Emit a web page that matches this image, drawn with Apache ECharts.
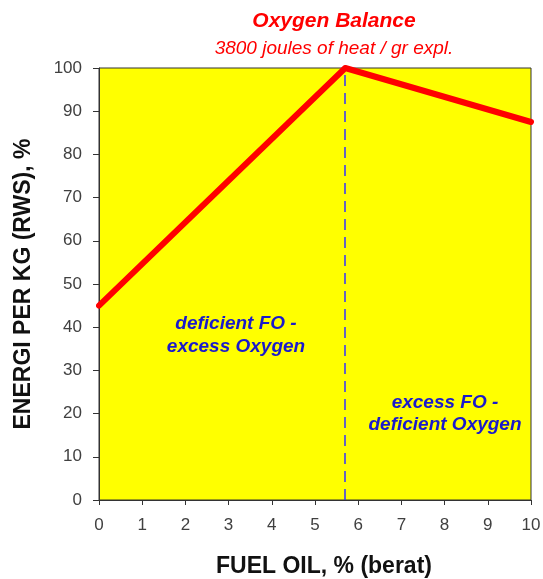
<!DOCTYPE html>
<html><head><meta charset="utf-8">
<script src="https://cdn.jsdelivr.net/npm/echarts@6/dist/echarts.min.js"></script>
<style>html,body{margin:0;padding:0;background:#fff}#c{width:543px;height:579px}</style>
</head><body><div id="c"></div>
<script>
const fuelOil = [0, 5.7, 10];
const energy = [45, 100, 87.5];
const balanceX = 5.7;
const xTicks = [0,1,2,3,4,5,6,7,8,9,10];
const yTicks = [0,10,20,30,40,50,60,70,80,90,100];
const titleText = 'Oxygen Balance';
const subText = '3800 joules of heat / gr expl.';
const leftNote = ['deficient FO -', 'excess Oxygen'];
const rightNote = ['excess FO -', 'deficient Oxygen'];

const chart = echarts.init(document.getElementById('c'));
const font = 'Liberation Sans, Arial, sans-serif';
chart.setOption({
  animation: false,
  backgroundColor: '#fff',
  grid: {left: 99, right: 12, top: 68, bottom: 79, containLabel: false, outerBoundsMode: 'none',
    show: true, backgroundColor: '#ffff00', borderColor: '#333', borderWidth: 1},
  title: [
    {text: titleText, left: 329, top: 6, textAlign: 'center',
     textStyle: {color: '#ff0000', fontSize: 21, fontWeight: 'bold', fontStyle: 'italic', fontFamily: font}},
    {text: subText, left: 329, top: 34, textAlign: 'center',
     textStyle: {color: '#ff0000', fontSize: 19, fontWeight: 'normal', fontStyle: 'italic', fontFamily: font}}
  ],
  xAxis: {
    type: 'value', min: 0, max: 10, interval: 1,
    name: 'FUEL OIL, % (berat)', nameLocation: 'middle', nameGap: 55,
    nameTextStyle: {color: '#111', fontSize: 23, fontWeight: 'bold', fontFamily: font, padding: [0, 0, 0, 18]},
    axisLine: {show: true, lineStyle: {color: '#333'}},
    axisTick: {show: true, length: 5, lineStyle: {color: '#333'}},
    axisLabel: {color: '#404040', fontSize: 17, margin: 17, fontFamily: font,
      formatter: v => xTicks.includes(v) ? String(v) : ''},
    splitLine: {show: false}
  },
  yAxis: {
    type: 'value', min: 0, max: 100, interval: 10,
    name: 'ENERGI PER KG (RWS), %', nameLocation: 'middle', nameGap: 64, nameRotate: 90,
    nameTextStyle: {color: '#111', fontSize: 23, fontWeight: 'bold', fontFamily: font},
    axisLine: {show: true, lineStyle: {color: '#333'}},
    axisTick: {show: true, length: 6, lineStyle: {color: '#333'}},
    axisLabel: {color: '#404040', fontSize: 17, margin: 17, fontFamily: font,
      formatter: v => yTicks.includes(v) ? String(v) : ''},
    splitLine: {show: false}
  },
  series: [{
    type: 'line',
    data: fuelOil.map((x, i) => [x, energy[i]]),
    symbol: 'none',
    lineStyle: {color: '#ff0000', width: 6, cap: 'round', join: 'round'},
    z: 3,
    markLine: {
      silent: true, symbol: 'none', label: {show: false},
      lineStyle: {color: '#3333ff', type: [11, 7], width: 1.5},
      emphasis: {disabled: true},
      data: [{xAxis: balanceX}]
    }
  }],
  graphic: [
    {type: 'text', x: 236, y: 312, z: 10, style: {text: leftNote.join('\n'), fill: '#1a1acc', font: 'italic bold 19px ' + font, align: 'center', lineHeight: 23}},
    {type: 'text', x: 445, y: 392, z: 10, style: {text: rightNote.join('\n'), fill: '#1a1acc', font: 'italic bold 19px ' + font, align: 'center', lineHeight: 22}}
  ]
});
</script></body></html>
